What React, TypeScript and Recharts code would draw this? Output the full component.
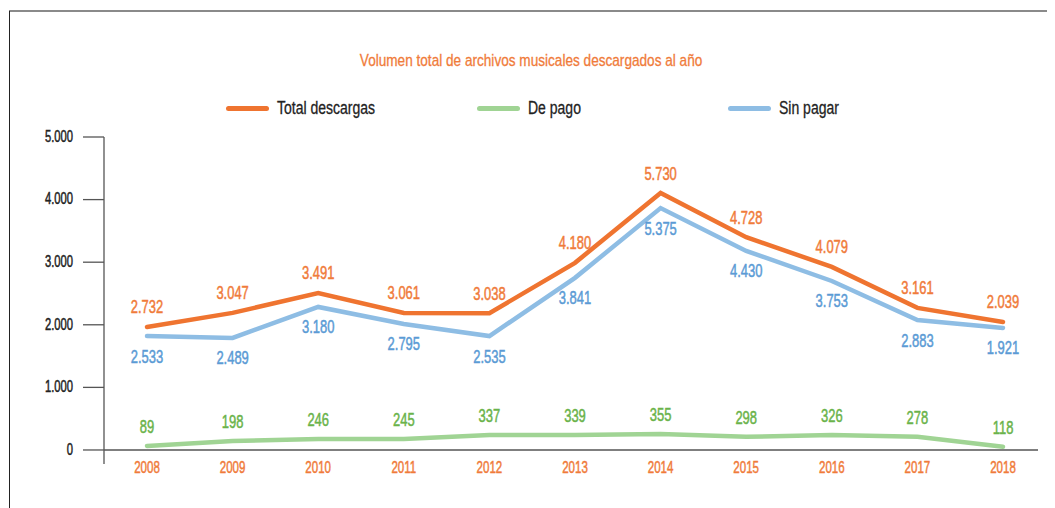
import React from 'react';
import { LineChart, Line, XAxis, YAxis, ReferenceLine, LabelList } from 'recharts';

const years = ['2008', '2009', '2010', '2011', '2012', '2013', '2014', '2015', '2016', '2017', '2018'];
const totalValues = [1965, 2190, 2508, 2190, 2185, 2990, 4105, 3400, 2925, 2270, 2045];
const freeValues = [1820, 1790, 2285, 2013, 1820, 2750, 3865, 3180, 2700, 2075, 1950];
const paidValues = [64, 144, 176, 176, 240, 240, 256, 210, 240, 210, 50];
const totalLabels = ['2.732', '3.047', '3.491', '3.061', '3.038', '4.180', '5.730', '4.728', '4.079', '3.161', '2.039'];
const freeLabels = ['2.533', '2.489', '3.180', '2.795', '2.535', '3.841', '5.375', '4.430', '3.753', '2.883', '1.921'];
const paidLabels = ['89', '198', '246', '245', '337', '339', '355', '298', '326', '278', '118'];
const yTicks = [0, 1000, 2000, 3000, 4000, 5000];
const Y_MIN = -224;

const TITLE = 'Volumen total de archivos musicales descargados al año';
const FONT = '"Liberation Sans", Arial, sans-serif';
const NUM_SCALE = 0.68;
const LABEL_SCALE = 0.72;
const TEXT_SCALE = 0.8;

const ORANGE = '#EF7430';
const ORANGE_TXT = '#F07B3A';
const BLUE = '#8EBDE4';
const BLUE_TXT = '#5B9BD5';
const GREEN = '#A0D494';
const GREEN_TXT = '#6AB34A';

const data = years.map((year, i) => ({
  year,
  total: totalValues[i],
  free: freeValues[i],
  paid: paidValues[i],
  totalLabel: totalLabels[i],
  freeLabel: freeLabels[i],
  paidLabel: paidLabels[i],
}));

const legendItems = [
  { name: 'Total descargas', color: ORANGE },
  { name: 'De pago', color: GREEN },
  { name: 'Sin pagar', color: BLUE },
];

const makeLabel = (color: string, offset: number) => (props: any) => {
  const { x, y, value } = props;
  return (
    <text
      transform={`translate(${x},${y + offset}) scale(${LABEL_SCALE},1)`}
      x={0}
      y={0}
      dy="0.36em"
      textAnchor="middle"
      fill={color}
      stroke={color}
      strokeWidth={0.5}
      fontSize={18}
      fontFamily={FONT}
    >
      {value}
    </text>
  );
};

const XTick = (props: any) => {
  const { x, y, payload } = props;
  return (
    <text
      transform={`translate(${x},${y + 8.7}) scale(${NUM_SCALE},1)`}
      x={0}
      y={0}
      textAnchor="middle"
      fill={ORANGE_TXT}
      stroke={ORANGE_TXT}
      strokeWidth={0.5}
      fontSize={17}
      fontFamily={FONT}
    >
      {payload.value}
    </text>
  );
};

const fmt = (v: number) => (v === 0 ? '0' : `${Math.floor(v / 1000)}.${String(v % 1000).padStart(3, '0')}`);

const YTick = (props: any) => {
  const { x, y, payload } = props;
  return (
    <text
      transform={`translate(${x},${y - 1}) scale(${NUM_SCALE},1)`}
      x={0}
      y={0}
      dy="0.35em"
      textAnchor="end"
      fill="#222"
      stroke="#222"
      strokeWidth={0.5}
      fontSize={16.5}
      fontFamily={FONT}
    >
      {fmt(payload.value)}
    </text>
  );
};

export default function App() {
  return (
    <div style={{ position: 'relative', width: 1047, height: 500, fontFamily: FONT, background: '#fff' }}>
      <div style={{ position: 'absolute', left: 1, top: 2, right: 0, height: 2, background: '#8a8a8a' }} />
      <div style={{ position: 'absolute', left: 1, top: 3, bottom: 0, width: 1, background: '#222' }} />
      <div
        style={{
          position: 'absolute',
          top: 44,
          left: 0,
          width: 1047,
          textAlign: 'center',
          color: ORANGE_TXT,
          fontSize: 17,
          lineHeight: '17px',
          whiteSpace: 'nowrap',
        }}
      >
        <span
          style={{
            display: 'inline-block',
            transform: `scaleX(${TEXT_SCALE})`,
            transformOrigin: 'center',
            WebkitTextStroke: '0.3px ' + ORANGE_TXT,
          }}
        >
          {TITLE}
        </span>
      </div>
      <div style={{ position: 'absolute', top: 91, left: 218, display: 'flex' }}>
        {legendItems.map((it) => (
          <div key={it.name} style={{ width: 251, display: 'flex', alignItems: 'center', height: 18 }}>
            <div style={{ width: 43, height: 5, borderRadius: 3, background: it.color, marginRight: 8, flex: 'none' }} />
            <span
              style={{
                display: 'inline-block',
                fontSize: 17.5,
                color: '#222',
                lineHeight: '18px',
                whiteSpace: 'nowrap',
                transform: `scaleX(${TEXT_SCALE})`,
                transformOrigin: 'left center',
                WebkitTextStroke: '0.3px #222',
              }}
            >
              {it.name}
            </span>
          </div>
        ))}
      </div>
      <div style={{ position: 'absolute', left: 0, top: 0 }}>
        <LineChart width={1047} height={500} data={data} margin={{ top: 129, right: 17, left: 0, bottom: 14 }}>
          <XAxis
            dataKey="year"
            axisLine={false}
            tickLine={false}
            tickSize={0}
            tickMargin={0}
            height={30}
            padding={{ left: 43, right: 35 }}
            tick={<XTick />}
            interval={0}
          />
          <YAxis
            domain={[Y_MIN, 5000]}
            ticks={yTicks}
            width={96}
            tickSize={21}
            tickMargin={10}
            axisLine={{ stroke: '#555', strokeWidth: 1.3 }}
            tickLine={{ stroke: '#555', strokeWidth: 1.3 }}
            tick={<YTick />}
            allowDataOverflow
          />
          <ReferenceLine y={0} stroke="#555" strokeWidth={1.3} />
          <Line
            type="linear"
            dataKey="paid"
            stroke={GREEN}
            strokeWidth={4.5}
            dot={false}
            strokeLinecap="round"
            isAnimationActive={false}
          >
            <LabelList dataKey="paidLabel" content={makeLabel(GREEN_TXT, -19)} />
          </Line>
          <Line
            type="linear"
            dataKey="free"
            stroke={BLUE}
            strokeWidth={4.5}
            dot={false}
            strokeLinecap="round"
            isAnimationActive={false}
          >
            <LabelList dataKey="freeLabel" content={makeLabel(BLUE_TXT, 20)} />
          </Line>
          <Line
            type="linear"
            dataKey="total"
            stroke={ORANGE}
            strokeWidth={4.5}
            dot={false}
            strokeLinecap="round"
            isAnimationActive={false}
          >
            <LabelList dataKey="totalLabel" content={makeLabel(ORANGE_TXT, -20)} />
          </Line>
        </LineChart>
      </div>
    </div>
  );
}
